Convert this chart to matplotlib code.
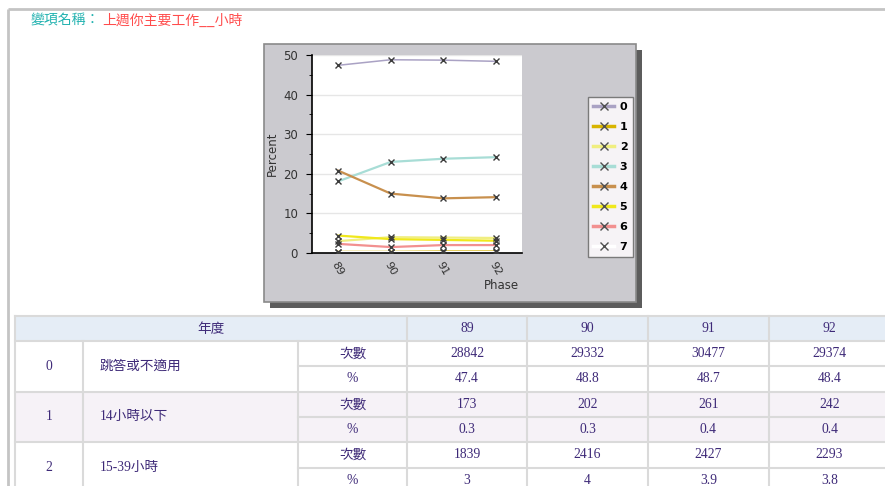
import matplotlib.pyplot as plt
from matplotlib.patches import Rectangle
from matplotlib.lines import Line2D

# chart data
phases = [89, 90, 91, 92]
series_names = ['0', '1', '2', '3', '4', '5', '6', '7']
series_pct = [
    [47.4, 48.8, 48.7, 48.4],
    [0.3, 0.3, 0.4, 0.4],
    [3.0, 4.0, 3.9, 3.8],
    [18.1, 23.0, 23.8, 24.2],
    [20.8, 15.0, 13.8, 14.1],
    [4.4, 3.5, 3.3, 3.1],
    [2.3, 1.5, 2.0, 2.0],
    [0.2, 0.2, 0.2, 0.2],
]
series_colors = ['#aaa2c4', '#d8b400', '#f0ee80', '#a8ddd6',
                 '#c8904e', '#f0e81c', '#f29090', 'none']

# table data
var_label = '變項名稱：'
var_name = '上週你主要工作__小時'
year_header = '年度'
row_codes = ['0', '1', '2']
row_labels = ['跳答或不適用', '14小時以下', '15-39小時']
counts = [
    [28842, 29332, 30477, 29374],
    [173, 202, 261, 242],
    [1839, 2416, 2427, 2293],
]
pcts = [
    ['47.4', '48.8', '48.7', '48.4'],
    ['0.3', '0.3', '0.4', '0.4'],
    ['3', '4', '3.9', '3.8'],
]

W, H = 885, 486
fig = plt.figure(figsize=(W / 100, H / 100), dpi=100)
fig.patch.set_facecolor('white')

bg = fig.add_axes([0, 0, 1, 1])
bg.set_xlim(0, W)
bg.set_ylim(H, 0)
bg.axis('off')

cjk = ['Noto Sans CJK TC', 'DejaVu Sans']
serif = ['Liberation Serif', 'Noto Sans CJK TC']
fs_tab = 9.8

# page border
bg.plot([8, W], [9, 9], color='#c4c4c4', lw=2, solid_capstyle='butt')
bg.plot([8, 8], [9, H], color='#c4c4c4', lw=2, solid_capstyle='butt')

# title
t1 = bg.text(30, 21, var_label, color='#22b2b0', fontsize=10, family=cjk,
             va='center', ha='left')
bg.annotate(var_name, xy=(1, 0.5), xycoords=t1, xytext=(2, 0),
            textcoords='offset points', color='#ff4c4c', fontsize=10,
            family=cjk, va='center', ha='left')

# chart panel with shadow
bg.add_patch(Rectangle((270, 50), 372, 258, facecolor='#5c5c5c', edgecolor='none'))
bg.add_patch(Rectangle((264, 44), 372, 258, facecolor='#cbcacf',
                       edgecolor='#8a8a8a', lw=1.2))

# table
col_x = [15, 83, 298, 407, 527, 648, 769, 890]
hdr_top, hdr_bot = 316, 341
row_h = 25.3
grid_c = '#dadada'
txt_c = '#3e2a78'
bg.add_patch(Rectangle((15, hdr_top), W - 15, hdr_bot - hdr_top,
                       facecolor='#e5edf6', edgecolor='none'))
for i in range(len(row_codes)):
    top = hdr_bot + i * 2 * row_h
    if i % 2 == 1:
        bg.add_patch(Rectangle((15, top), W - 15, 2 * row_h,
                               facecolor='#f6f2f7', edgecolor='none'))
# horizontal grid
bg.plot([15, W], [hdr_top, hdr_top], color=grid_c, lw=1.5)
bg.plot([15, W], [hdr_bot, hdr_bot], color=grid_c, lw=1.5)
for i in range(len(row_codes)):
    top = hdr_bot + i * 2 * row_h
    bg.plot([15, W], [top + 2 * row_h, top + 2 * row_h], color=grid_c, lw=1.5)
    bg.plot([col_x[2], W], [top + row_h, top + row_h], color=grid_c, lw=1.5)
# vertical grid
for x in col_x[:-1]:
    y0 = hdr_bot if x in (col_x[1], col_x[2]) else hdr_top
    bg.plot([x, x], [y0, H], color=grid_c, lw=1.5)

bg.text((col_x[0] + col_x[3]) / 2, (hdr_top + hdr_bot) / 2, year_header,
        color=txt_c, fontsize=fs_tab, family=cjk, ha='center', va='center')
for j, p in enumerate(phases):
    bg.text((col_x[3 + j] + col_x[4 + j]) / 2, (hdr_top + hdr_bot) / 2, str(p),
            color=txt_c, fontsize=fs_tab, family=serif, ha='center', va='center')

for i in range(len(row_codes)):
    top = hdr_bot + i * 2 * row_h
    mid = top + row_h
    bg.text((col_x[0] + col_x[1]) / 2, mid, row_codes[i], color=txt_c,
            fontsize=fs_tab, family=serif, ha='center', va='center')
    bg.text(col_x[1] + 17, mid, row_labels[i], color=txt_c,
            fontsize=fs_tab, family=serif, ha='left', va='center')
    bg.text((col_x[2] + col_x[3]) / 2, top + row_h / 2, '次數', color=txt_c,
            fontsize=fs_tab, family=cjk, ha='center', va='center')
    bg.text((col_x[2] + col_x[3]) / 2, top + 1.5 * row_h, '%', color=txt_c,
            fontsize=fs_tab, family=serif, ha='center', va='center')
    for j in range(len(phases)):
        cx = (col_x[3 + j] + col_x[4 + j]) / 2
        bg.text(cx, top + row_h / 2, str(counts[i][j]), color=txt_c,
                fontsize=fs_tab, family=serif, ha='center', va='center')
        bg.text(cx, top + 1.5 * row_h, pcts[i][j], color=txt_c,
                fontsize=fs_tab, family=serif, ha='center', va='center')

# line chart
ax = fig.add_axes([312 / W, 1 - 253 / H, 210 / W, 198 / H])
ax.set_facecolor('white')
handles = []
widths = [1.1, 1.6, 1.6, 1.6, 1.6, 1.6, 1.6, 1.6]
for name, vals, c, lw in zip(series_names, series_pct, series_colors, widths):
    lc = c if c != 'none' else 'white'
    ax.plot(phases, vals, color=lc, lw=lw, zorder=2)
    ax.plot(phases, vals, ls='none', marker='x', ms=5, mew=1,
            color='#3c3c3c', zorder=3)
    handles.append(Line2D([], [], color=lc, lw=2.5, marker='x', ms=6,
                          mew=1, mec='#505050'))

ax.set_xlim(88.5, 92.5)
ax.set_ylim(0, 50)
ax.set_xticks(phases)
ax.set_xticklabels([str(p) for p in phases], rotation=-60, ha='left',
                   rotation_mode='anchor', fontsize=8, color='#333333')
ax.set_yticks([0, 10, 20, 30, 40, 50])
ax.set_yticks([5, 15, 25, 35, 45], minor=True)
ax.tick_params(axis='y', which='major', length=4, labelsize=8.5,
               labelcolor='#333333', pad=6)
ax.tick_params(axis='y', which='minor', length=2)
ax.tick_params(axis='x', length=0, pad=5)
ax.grid(axis='y', which='major', color='#e6e6e6', lw=1)
ax.set_axisbelow(True)
for s in ['top', 'right']:
    ax.spines[s].set_visible(False)
ax.spines['left'].set_linewidth(1.2)
ax.spines['bottom'].set_linewidth(1.2)
ax.set_ylabel('Percent', fontsize=8.5, color='#333333', labelpad=3)
ax.set_xlabel('Phase', fontsize=8.5, color='#333333')
ax.xaxis.set_label_coords(0.9, -0.13)

leg = ax.legend(handles, series_names, loc='upper left',
                bbox_to_anchor=(588 / W, 1 - 97 / H),
                bbox_transform=fig.transFigure, frameon=True, fancybox=False,
                edgecolor='#7a7a7a', facecolor='#f6f3f6', framealpha=1,
                prop={'weight': 'bold', 'size': 8}, handlelength=1.9,
                handletextpad=0.5, labelspacing=0.9, borderpad=0.45,
                borderaxespad=0)
leg.get_frame().set_linewidth(1)

fig.savefig('out.png', dpi=100)
